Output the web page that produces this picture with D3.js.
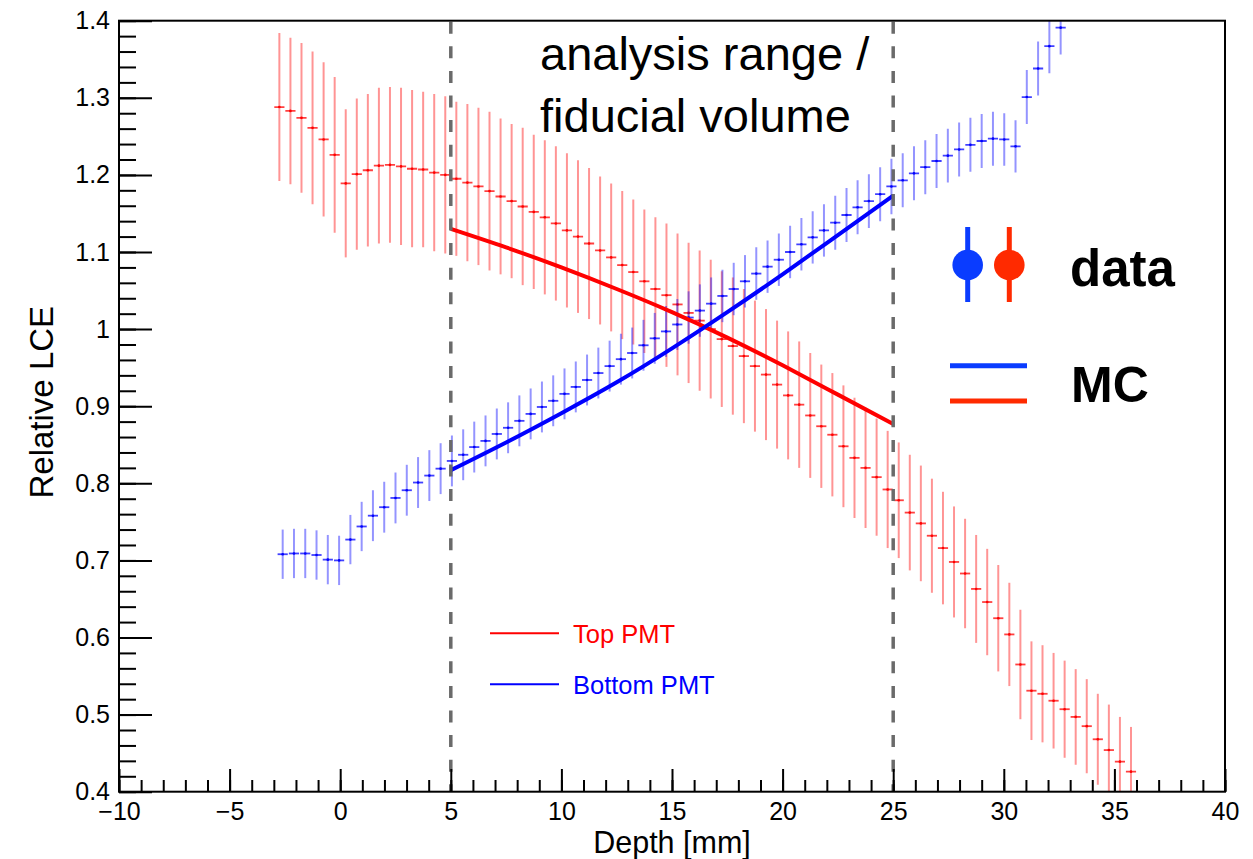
<!DOCTYPE html>
<html>
<head>
<meta charset="utf-8">
<script src="https://cdn.jsdelivr.net/npm/d3@7"></script>
<style>
  body { margin: 0; background: #fff; }
  svg text { font-family: "Liberation Sans", Arial, Helvetica, sans-serif; }
</style>
</head>
<body>
<svg id="chart" width="1253" height="859"></svg>
<script>
// ---- data ----
// Top PMT (red), relative LCE per depth bin
const topDepth = [-2.75,-2.25,-1.75,-1.25,-0.75,-0.25,0.25,0.75,1.25,1.75,2.25,2.75,3.25,3.75,4.25,4.75,
  5.25,5.75,6.25,6.75,7.25,7.75,8.25,8.75,9.25,9.75,10.25,10.75,11.25,11.75,
  12.25,12.75,13.25,13.75,14.25,14.75,15.25,15.75,16.25,16.75,17.25,17.75,18.25,18.75,
  19.25,19.75,20.25,20.75,21.25,21.75,22.25,22.75,23.25,23.75,24.25,24.75,
  25.25,25.75,26.25,26.75,27.25,27.75,28.25,28.75,29.25,29.75,30.25,30.75,31.25,31.75,
  32.25,32.75,33.25,33.75,34.25,34.75,35.25,35.75];
const topLCE = [1.288,1.283,1.274,1.261,1.246,1.226,1.189,1.201,1.206,1.212,1.213,1.211,1.208,1.207,1.203,1.200,
  1.195,1.190,1.185,1.179,1.172,1.166,1.159,1.152,1.145,1.137,1.128,1.120,1.111,1.102,
  1.093,1.083,1.074,1.062,1.052,1.044,1.032,1.021,1.011,1.000,0.987,0.978,0.965,0.952,
  0.941,0.928,0.914,0.902,0.888,0.874,0.863,0.848,0.833,0.820,0.808,0.792,
  0.778,0.762,0.748,0.732,0.716,0.698,0.683,0.663,0.646,0.625,0.604,0.565,0.531,0.527,
  0.518,0.507,0.497,0.485,0.468,0.454,0.439,0.426];
const topErr = [0.096,0.095,0.097,0.099,0.100,0.101,0.096,0.098,0.099,0.101,0.101,0.102,0.102,0.101,0.102,0.102,
  0.100,0.102,0.102,0.103,0.101,0.100,0.102,0.100,0.100,0.100,0.100,0.099,0.098,0.096,
  0.096,0.096,0.094,0.093,0.093,0.093,0.092,0.091,0.091,0.090,0.088,0.089,0.087,0.085,
  0.085,0.083,0.083,0.082,0.081,0.080,0.080,0.079,0.078,0.078,0.076,0.076,
  0.075,0.075,0.075,0.074,0.073,0.072,0.071,0.070,0.069,0.069,0.067,0.071,0.064,0.063,
  0.062,0.063,0.062,0.061,0.059,0.059,0.058,0.058];

// Bottom PMT (blue)
const bottomDepth = [-2.60,-2.09,-1.58,-1.07,-0.56,-0.05,0.46,0.97,1.48,1.99,2.50,3.01,3.52,4.03,4.54,5.05,
  5.56,6.06,6.57,7.08,7.59,8.10,8.61,9.12,9.63,10.14,10.65,11.16,11.67,12.18,
  12.69,13.20,13.71,14.22,14.73,15.24,15.75,16.26,16.77,17.28,17.79,18.30,18.81,19.32,
  19.83,20.34,20.85,21.36,21.87,22.38,22.89,23.39,23.90,24.41,24.92,
  25.43,25.94,26.45,26.96,27.47,27.98,28.49,29.00,29.51,30.02,30.53,31.04,31.55,32.06,32.57];
const bottomLCE = [0.708,0.709,0.709,0.707,0.701,0.700,0.727,0.744,0.758,0.769,0.781,0.791,0.801,0.810,0.819,0.829,
  0.837,0.847,0.855,0.864,0.872,0.881,0.890,0.899,0.907,0.916,0.925,0.934,0.943,0.952,
  0.961,0.969,0.979,0.988,0.997,1.006,1.015,1.024,1.033,1.043,1.052,1.062,1.072,1.081,
  1.090,1.100,1.110,1.119,1.128,1.138,1.148,1.158,1.166,1.175,1.185,
  1.193,1.202,1.210,1.218,1.225,1.233,1.239,1.244,1.247,1.246,1.237,1.301,1.338,1.367,1.391];
const bottomErr = [0.032,0.032,0.032,0.032,0.032,0.032,0.032,0.032,0.033,0.033,0.033,0.033,0.033,0.033,0.033,0.033,
  0.033,0.033,0.033,0.033,0.033,0.033,0.033,0.033,0.033,0.033,0.033,0.033,0.033,0.033,
  0.033,0.033,0.033,0.033,0.033,0.033,0.034,0.034,0.034,0.034,0.034,0.034,0.034,0.034,
  0.034,0.034,0.034,0.034,0.034,0.035,0.035,0.035,0.035,0.035,0.036,
  0.035,0.035,0.035,0.035,0.035,0.035,0.035,0.035,0.035,0.034,0.034,0.035,0.035,0.035,0.035];

// MC curves inside the analysis range
const mcDepth = [5, 7.5, 10, 12.5, 15, 17.5, 20, 22.5, 25];
const mcTop = [1.130, 1.106, 1.080, 1.052, 1.022, 0.989, 0.953, 0.915, 0.877];
const mcBottom = [0.817, 0.853, 0.891, 0.931, 0.975, 1.022, 1.071, 1.122, 1.173];

const cutDepths = [5, 25];
const xMajor = [-10, -5, 0, 5, 10, 15, 20, 25, 30, 35, 40];
const yMajor = [0.4, 0.5, 0.6, 0.7, 0.8, 0.9, 1.0, 1.1, 1.2, 1.3, 1.4];

// ---- layout ----
const plot = { left: 119, right: 1225, top: 20.7, bottom: 791.7 };
const svg = d3.select("#chart");

const x = d3.scaleLinear().domain([-10, 40]).range([plot.left, plot.right]);
const y = d3.scaleLinear().domain([0.4, 1.4]).range([plot.bottom, plot.top]);

svg.append("defs").append("clipPath").attr("id", "plotClip")
  .append("rect")
  .attr("x", plot.left).attr("y", plot.top)
  .attr("width", plot.right - plot.left).attr("height", plot.bottom - plot.top);

// data points with error bars
function drawPoints(depth, lce, err, color) {
  const pts = depth.map((d, i) => ({ d: d, v: lce[i], e: err[i] }));
  const g = svg.append("g").attr("clip-path", "url(#plotClip)");
  g.selectAll(".ebar").data(pts).enter().append("line")
    .attr("x1", p => x(p.d)).attr("x2", p => x(p.d))
    .attr("y1", p => y(p.v + p.e)).attr("y2", p => y(p.v - p.e))
    .attr("stroke", color).attr("stroke-opacity", 0.42).attr("stroke-width", 2);
  g.selectAll(".hbar").data(pts).enter().append("line")
    .attr("x1", p => x(p.d - 0.23)).attr("x2", p => x(p.d + 0.23))
    .attr("y1", p => y(p.v)).attr("y2", p => y(p.v))
    .attr("stroke", color).attr("stroke-opacity", 0.75).attr("stroke-width", 1.8);
  g.selectAll(".dot").data(pts).enter().append("circle")
    .attr("cx", p => x(p.d)).attr("cy", p => y(p.v)).attr("r", 1.3)
    .attr("fill", color);
}
drawPoints(topDepth, topLCE, topErr, "#ff0000");
drawPoints(bottomDepth, bottomLCE, bottomErr, "#0000ff");

// MC lines
const mcLine = d3.line().x(d => x(d[0])).y(d => y(d[1])).curve(d3.curveNatural);
svg.append("path").datum(mcDepth.map((d, i) => [d, mcTop[i]]))
  .attr("d", mcLine).attr("fill", "none").attr("stroke", "#ff0000").attr("stroke-width", 4);
svg.append("path").datum(mcDepth.map((d, i) => [d, mcBottom[i]]))
  .attr("d", mcLine).attr("fill", "none").attr("stroke", "#0000ff").attr("stroke-width", 4);

// analysis range cuts
svg.selectAll(".cut").data(cutDepths).enter().append("line")
  .attr("x1", d => x(d)).attr("x2", d => x(d))
  .attr("y1", plot.top + 1).attr("y2", plot.bottom)
  .attr("stroke", "#6a6a6a").attr("stroke-width", 3.5)
  .attr("stroke-dasharray", "12,12.6");

// axes
const yMinor = d3.range(0.4, 1.4001, 0.02).map(v => +v.toFixed(2));
const xMinor = d3.range(-10, 40.001, 1);

svg.append("g").attr("transform", `translate(${plot.left},0)`)
  .call(d3.axisLeft(y).tickValues(yMinor).tickSize(-17).tickFormat(""))
  .call(g => g.select(".domain").remove());
svg.append("g").attr("transform", `translate(${plot.left},0)`)
  .call(d3.axisLeft(y).tickValues(yMajor).tickSize(-33).tickPadding(9)
    .tickFormat(d => d3.format("~g")(d)))
  .call(g => g.select(".domain").remove());

svg.append("g").attr("transform", `translate(0,${plot.bottom})`)
  .call(d3.axisBottom(x).tickValues(xMinor).tickSize(-11.7).tickFormat(""))
  .call(g => g.select(".domain").remove());
svg.append("g").attr("transform", `translate(0,${plot.bottom})`)
  .call(d3.axisBottom(x).tickValues(xMajor).tickSize(-22.7).tickPadding(10.5)
    .tickFormat(d => d < 0 ? "\u2212" + Math.abs(d) : String(d)))
  .call(g => g.select(".domain").remove());

svg.selectAll(".tick line").attr("stroke", "#000").attr("stroke-width", 2);
svg.selectAll(".tick text").attr("font-size", 25).attr("fill", "#000")
  .style("font-family", "'Liberation Sans', Arial, sans-serif");

// frame
svg.append("rect")
  .attr("x", plot.left).attr("y", plot.top)
  .attr("width", plot.right - plot.left).attr("height", plot.bottom - plot.top)
  .attr("fill", "none").attr("stroke", "#000").attr("stroke-width", 2);

// axis titles
svg.append("text")
  .attr("x", x(15)).attr("y", 853)
  .attr("text-anchor", "middle").attr("font-size", 30.5)
  .text("Depth [mm]");
svg.append("text")
  .attr("transform", `translate(53,${(plot.top + plot.bottom) / 2 - 4}) rotate(-90)`)
  .attr("text-anchor", "middle").attr("font-size", 33)
  .text("Relative LCE");

// annotation
svg.append("text").attr("x", 540).attr("y", 70).attr("font-size", 47)
  .text("analysis range /");
svg.append("text").attr("x", 540).attr("y", 131.5).attr("font-size", 47)
  .text("fiducial volume");

// small legend (Top / Bottom PMT)
const legend = [
  { label: "Top PMT", color: "#ff0000", y: 633.3 },
  { label: "Bottom PMT", color: "#0000ff", y: 684.3 }
];
legend.forEach(l => {
  svg.append("line").attr("x1", 490).attr("x2", 559).attr("y1", l.y).attr("y2", l.y)
    .attr("stroke", l.color).attr("stroke-width", 2);
  svg.append("text").attr("x", 573).attr("y", l.y + 10).attr("font-size", 25.5)
    .attr("fill", l.color).text(l.label);
});

// big data / MC key
const keyBlue = "#0a3cff", keyRed = "#ff2a00";
[[967.7, keyBlue], [1009.3, keyRed]].forEach(([cx, c]) => {
  svg.append("line").attr("x1", cx).attr("x2", cx).attr("y1", 227).attr("y2", 302)
    .attr("stroke", c).attr("stroke-width", 5);
  svg.append("circle").attr("cx", cx).attr("cy", 265).attr("r", 15.3).attr("fill", c);
});
svg.append("text").attr("x", 1070).attr("y", 286).attr("font-size", 51)
  .attr("font-weight", "bold").text("data");
svg.append("line").attr("x1", 950).attr("x2", 1027).attr("y1", 365.7).attr("y2", 365.7)
  .attr("stroke", keyBlue).attr("stroke-width", 5);
svg.append("line").attr("x1", 950).attr("x2", 1027).attr("y1", 401).attr("y2", 401)
  .attr("stroke", keyRed).attr("stroke-width", 5);
svg.append("text").attr("x", 1071).attr("y", 402).attr("font-size", 50)
  .attr("font-weight", "bold").text("MC");
</script>
</body>
</html>
